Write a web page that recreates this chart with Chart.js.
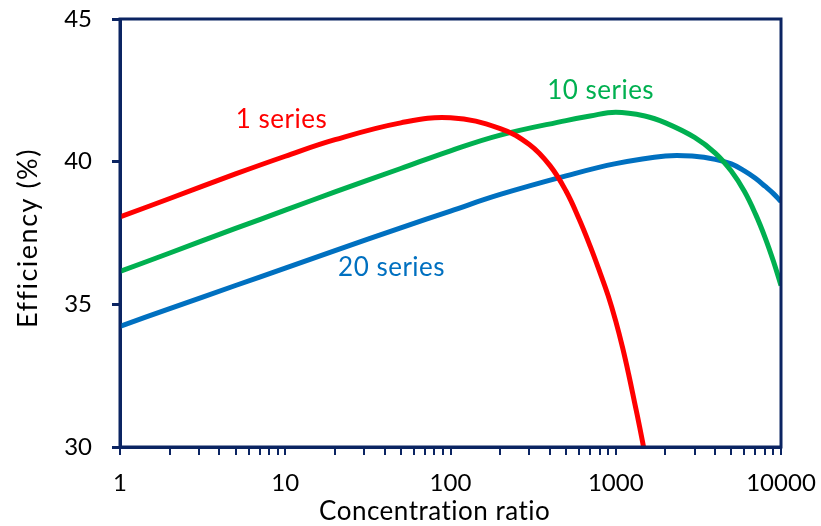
<!DOCTYPE html>
<html>
<head>
<meta charset="utf-8">
<script src="https://cdn.jsdelivr.net/npm/chart.js@4/dist/chart.umd.min.js"></script>
<style>
  html, body { margin: 0; padding: 0; background: #ffffff; }
  #wrap { width: 821px; height: 526px; }
</style>
</head>
<body>
<div id="wrap"><canvas id="chart" width="821" height="526"></canvas></div>
<script>
// Concentration ratio (suns) and cell efficiency (%) for each string configuration
const series1Conc = [1, 2, 5, 10, 20, 50, 100, 200, 300, 400, 500, 600, 700, 800, 900, 1000, 1100, 1200, 1300, 1400, 1500];
const series1Eff  = [38.06, 38.71, 39.57, 40.19, 40.77, 41.36, 41.54, 41.16, 40.6, 39.86, 38.97, 37.99, 37.04, 36.14, 35.3, 34.41, 33.48, 32.52, 31.56, 30.66, 29.76];

const series10Conc = [1, 2, 5, 10, 20, 50, 100, 200, 500, 700, 1000, 1500, 2000, 3000, 4000, 5000, 6000, 7000, 8000, 9000, 10000];
const series10Eff  = [36.15, 36.8, 37.66, 38.3, 38.94, 39.76, 40.38, 40.93, 41.44, 41.6, 41.73, 41.6, 41.36, 40.85, 40.3, 39.67, 38.96, 38.17, 37.35, 36.51, 35.66];

const series20Conc = [1, 2, 5, 10, 20, 50, 100, 200, 500, 1000, 2000, 3000, 4000, 5000, 6000, 7000, 8000, 9000, 10000];
const series20Eff  = [34.23, 34.85, 35.66, 36.27, 36.88, 37.68, 38.27, 38.85, 39.5, 39.93, 40.2, 40.19, 40.08, 39.92, 39.68, 39.42, 39.14, 38.88, 38.6];

const seriesNames  = ['1 series', '10 series', '20 series'];
const seriesColors = ['#FF0000', '#00B050', '#0070C0'];
// Where each series name is written, in data units (concentration, efficiency)
const labelConc = [9.5, 810, 44];
const labelEff  = [41.47, 42.49, 36.27];

const xMajorTicks = [1, 10, 100, 1000, 10000];
const yTicks = [30, 35, 40, 45];

const AXIS_COLOR = '#0B2462';
const FONT = 'Lato, "Open Sans", sans-serif';

function toPoints(xs, ys) { return xs.map((x, i) => ({ x: x, y: ys[i] })); }

// full log tick list: each decade plus its 2..9 multiples
const xAllTicks = [];
xMajorTicks.forEach((m, i) => {
  xAllTicks.push(m);
  if (i < xMajorTicks.length - 1) for (let k = 2; k <= 9; k++) xAllTicks.push(m * k);
});

const framePlugin = {
  id: 'frame',
  afterDatasetsDraw(chart) {
    const { ctx, chartArea: a } = chart;
    ctx.save();
    ctx.strokeStyle = AXIS_COLOR;
    ctx.lineWidth = 3;
    ctx.strokeRect(a.left, a.top, a.right - a.left, a.bottom - a.top);
    ctx.restore();
  }
};

const textPlugin = {
  id: 'texts',
  afterDraw(chart) {
    const { ctx, chartArea: a, scales } = chart;
    ctx.save();
    ctx.textBaseline = 'middle';
    // y tick labels, right-aligned left of the tick marks
    ctx.font = '24px ' + FONT;
    ctx.fillStyle = '#000000';
    ctx.textAlign = 'right';
    yTicks.forEach(v => ctx.fillText(String(v), a.left - 28, scales.y.getPixelForValue(v)));
    // series names
    ctx.textAlign = 'center';
    ctx.font = '26px ' + FONT;
    ctx.letterSpacing = '0.5px';
    seriesNames.forEach((name, i) => {
      ctx.fillStyle = seriesColors[i];
      ctx.fillText(name, scales.x.getPixelForValue(labelConc[i]), scales.y.getPixelForValue(labelEff[i]));
    });
    // axis titles
    ctx.fillStyle = '#000000';
    ctx.fillText('Concentration ratio', a.left + (a.right - a.left) * 0.476, 512);
    ctx.font = '27px ' + FONT;
    ctx.letterSpacing = '1.5px';
    ctx.translate(28, (a.top + a.bottom) / 2 + 5);
    ctx.rotate(-Math.PI / 2);
    ctx.fillText('Efficiency (%)', 0, 0);
    ctx.restore();
  }
};

const concs = [series1Conc, series10Conc, series20Conc];
const effs = [series1Eff, series10Eff, series20Eff];

new Chart(document.getElementById('chart'), {
  type: 'line',
  data: {
    datasets: seriesNames.map((name, i) => ({
      label: name,
      data: toPoints(concs[i], effs[i]),
      borderColor: seriesColors[i],
      backgroundColor: seriesColors[i],
      borderWidth: 5,
      pointRadius: 0,
      tension: 0.4,
      fill: false
    }))
  },
  options: {
    responsive: false,
    animation: false,
    devicePixelRatio: 1,
    layout: { padding: { top: 19, right: 40, bottom: 0, left: 0 } },
    plugins: { legend: { display: false }, tooltip: { enabled: false } },
    scales: {
      x: {
        type: 'logarithmic',
        min: 1,
        max: 10000,
        afterBuildTicks(scale) { scale.ticks = xAllTicks.map(v => ({ value: v, major: xMajorTicks.includes(v) })); },
        afterFit(scale) {
          scale.height = 79;
          scale.paddingLeft = 0; scale.paddingRight = 0; scale.paddingTop = 0; scale.paddingBottom = 0;
        },
        ticks: {
          autoSkip: false,
          maxRotation: 0,
          padding: 14,
          color: '#000000',
          font: { family: FONT, size: 24 },
          callback(value) { return xMajorTicks.includes(value) ? String(value) : ''; }
        },
        grid: { drawOnChartArea: false, drawTicks: true, tickLength: 8, color: AXIS_COLOR, lineWidth: 2 },
        border: { display: true, color: AXIS_COLOR, width: 3 }
      },
      y: {
        min: 30,
        max: 45,
        afterBuildTicks(scale) { scale.ticks = yTicks.map(v => ({ value: v })); },
        afterFit(scale) {
          scale.width = 120;
          scale.paddingLeft = 0; scale.paddingRight = 0; scale.paddingTop = 0; scale.paddingBottom = 0;
        },
        ticks: { display: false },
        grid: { drawOnChartArea: false, drawTicks: true, tickLength: 8, color: AXIS_COLOR, lineWidth: 3 },
        border: { display: true, color: AXIS_COLOR, width: 3 }
      }
    }
  },
  plugins: [framePlugin, textPlugin]
});
</script>
</body>
</html>
